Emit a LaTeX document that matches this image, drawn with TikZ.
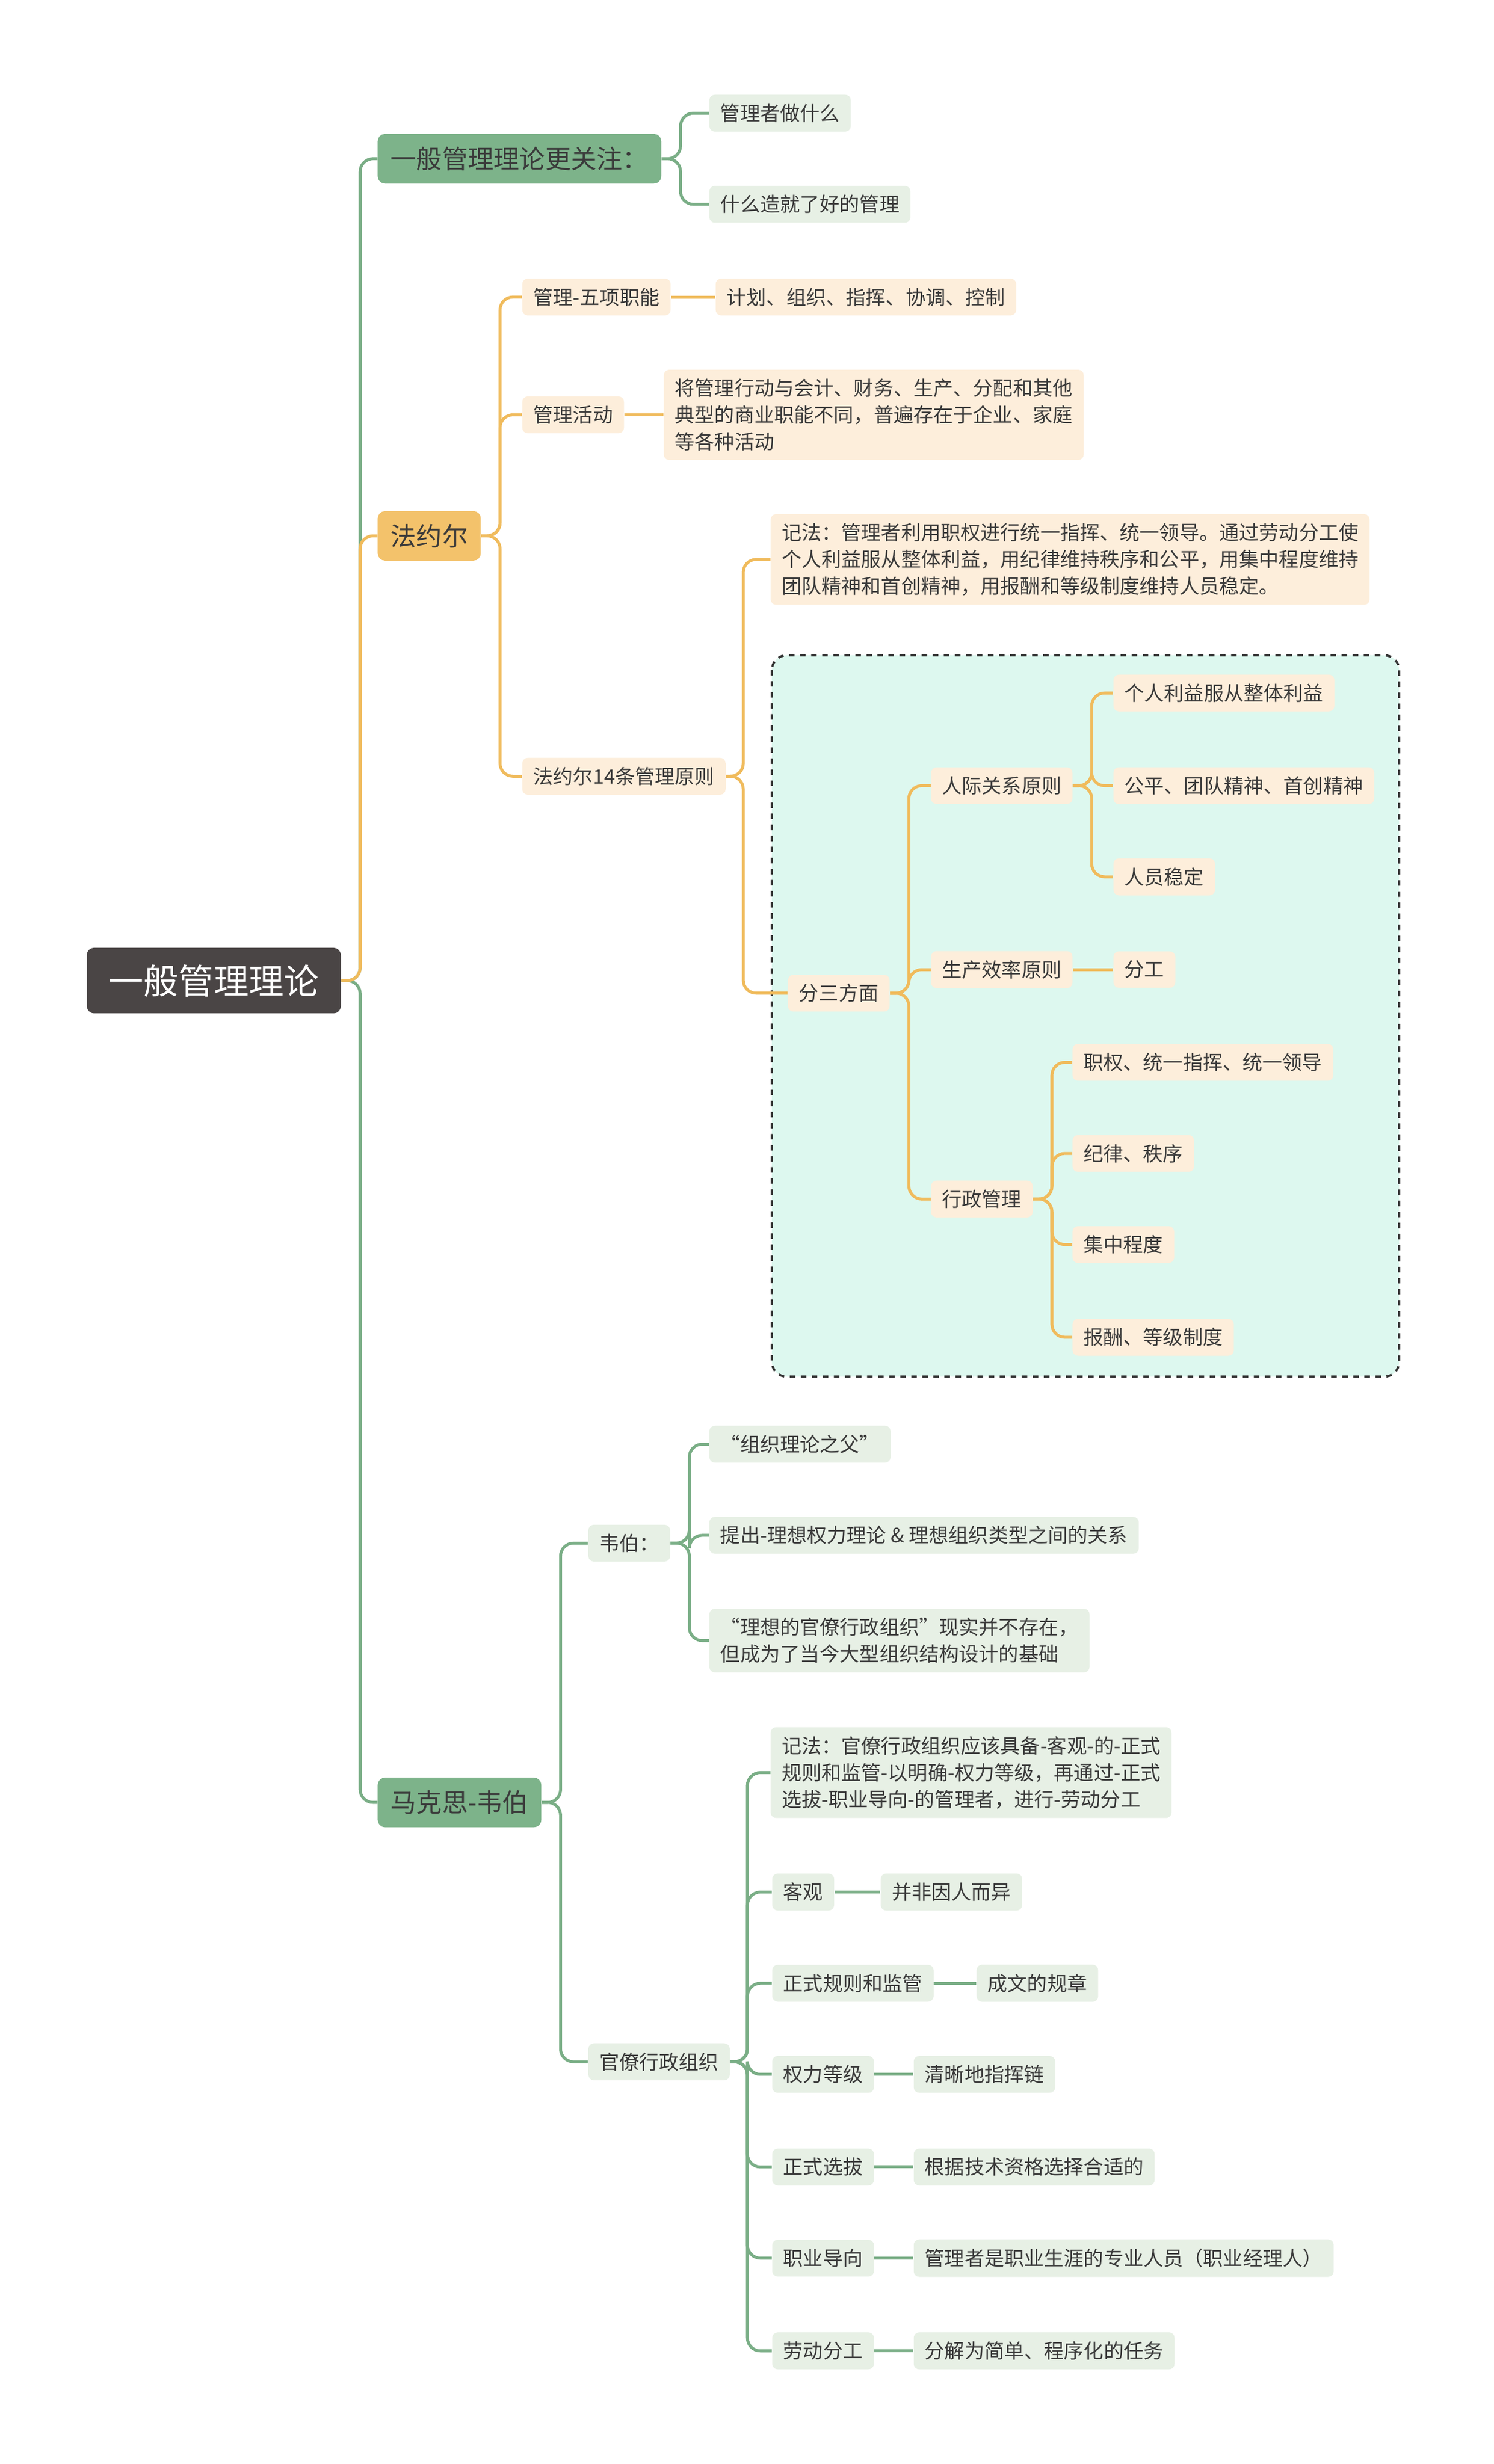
\documentclass[tikz,border=0pt]{standalone}
\usepackage{fontspec}
\setmainfont{Noto Sans CJK SC}
\usetikzlibrary{positioning}
\definecolor{rootfill}{HTML}{4A4545}
\definecolor{gfill}{HTML}{7DB38A}
\definecolor{gleaf}{HTML}{E7F0E5}
\definecolor{gline}{HTML}{7AAE86}
\definecolor{ofill}{HTML}{F3C26B}
\definecolor{oleaf}{HTML}{FDEEDB}
\definecolor{oline}{HTML}{F0BB5C}
\definecolor{zone}{HTML}{DDF8EF}
\definecolor{txt}{HTML}{3A3A3A}
\tikzset{
  root/.style={fill=rootfill,text=white,rounded corners=4pt,inner xsep=12pt,inner ysep=9pt,font=\fontsize{19}{23}\selectfont},
  maing/.style={fill=gfill,text=txt,rounded corners=4pt,inner sep=7pt,anchor=west,font=\fontsize{14}{17}\selectfont},
  maino/.style={maing,fill=ofill},
  leafg/.style={fill=gleaf,text=txt,rounded corners=3pt,inner xsep=6pt,inner ysep=5pt,anchor=west,align=left,font=\fontsize{10.8}{14.5}\selectfont},
  leafo/.style={leafg,fill=oleaf},
  edgeg/.style={draw=gline,line width=1.6pt,rounded corners=7pt},
  edgeo/.style={draw=oline,line width=1.6pt,rounded corners=7pt}
}
\newcommand{\branch}[4]{\draw[#1] (#2.east) -- ++(#4,0) |- (#3.west);}
\newcommand{\single}[3]{\draw[#1] (#2.east) -- (#2.east -| #3.west);}
\begin{document}
\begin{tikzpicture}[x=0.03cm,y=-0.03cm]
\useasboundingbox (0,0) rectangle (950,1568);
\fill[white] (0,0) rectangle (950,1568);
% 分三方面 zone
\draw[dashed,line width=1.2pt,rounded corners=8pt,fill=zone,draw=black!80] (491,417) rectangle (890,876);

\node[root] (root) at (136,624) {一般管理理论};

\node[maing] (focus) at (240,101) {一般管理理论更关注：};
\node[maino] (fayol) at (240,341) {法约尔};
\node[maing] (weber) at (240,1147) {马克思-韦伯};

\node[leafg] (what) at (451,72) {管理者做什么};
\node[leafg] (good) at (451,130) {什么造就了好的管理};

\node[leafo] (five) at (332,189) {管理-五项职能};
\node[leafo] (plan) at (455,189) {计划、组织、指挥、协调、控制};
\node[leafo] (act) at (332,264) {管理活动};
\node[leafo] (actx) at (422,264) {将管理行动与会计、财务、生产、分配和其他\\典型的商业职能不同，普遍存在于企业、家庭\\等各种活动};
\node[leafo] (p14) at (332,494) {法约尔14条管理原则};
\node[leafo] (memo) at (490,356) {记法：管理者利用职权进行统一指挥、统一领导。通过劳动分工使\\个人利益服从整体利益，用纪律维持秩序和公平，用集中程度维持\\团队精神和首创精神，用报酬和等级制度维持人员稳定。};
\node[leafo] (three) at (501,632) {分三方面};
\node[leafo] (human) at (592,500) {人际关系原则};
\node[leafo] (prod) at (592,617) {生产效率原则};
\node[leafo] (admin) at (592,763) {行政管理};
\node[leafo] (h1) at (708,441) {个人利益服从整体利益};
\node[leafo] (h2) at (708,500) {公平、团队精神、首创精神};
\node[leafo] (h3) at (708,558) {人员稳定};
\node[leafo] (div) at (708,617) {分工};
\node[leafo] (a1) at (682,676) {职权、统一指挥、统一领导};
\node[leafo] (a2) at (682,734) {纪律、秩序};
\node[leafo] (a3) at (682,792) {集中程度};
\node[leafo] (a4) at (682,851) {报酬、等级制度};

\node[leafg] (wb) at (374,982) {韦伯：};
\node[leafg] (bur) at (374,1312) {官僚行政组织};
\node[leafg] (father) at (451,919) {“组织理论之父”};
\node[leafg] (idea) at (451,977) {提出-理想权力理论 \& 理想组织类型之间的关系};
\node[leafg] (real) at (451,1044) {“理想的官僚行政组织”现实并不存在，\\但成为了当今大型组织结构设计的基础};
\node[leafg] (bmemo) at (490,1128) {记法：官僚行政组织应该具备-客观-的-正式\\规则和监管-以明确-权力等级，再通过-正式\\选拔-职业导向-的管理者，进行-劳动分工};
\node[leafg] (obj) at (491,1204) {客观};
\node[leafg] (obj2) at (560,1204) {并非因人而异};
\node[leafg] (rule) at (491,1262) {正式规则和监管};
\node[leafg] (rule2) at (621,1262) {成文的规章};
\node[leafg] (rank) at (491,1320) {权力等级};
\node[leafg] (rank2) at (581,1320) {清晰地指挥链};
\node[leafg] (sel) at (491,1379) {正式选拔};
\node[leafg] (sel2) at (581,1379) {根据技术资格选择合适的};
\node[leafg] (car) at (491,1437) {职业导向};
\node[leafg] (car2) at (581,1437) {管理者是职业生涯的专业人员（职业经理人）};
\node[leafg] (lab) at (491,1496) {劳动分工};
\node[leafg] (lab2) at (581,1496) {分解为简单、程序化的任务};

% connectors
\foreach \c in {focus,weber} {\branch{edgeg}{root}{\c}{12}}
\branch{edgeo}{root}{fayol}{12}
\foreach \c in {what,good} {\branch{edgeg}{focus}{\c}{12}}
\foreach \c in {five,act,p14} {\branch{edgeo}{fayol}{\c}{12}}
\single{edgeo}{five}{plan}
\single{edgeo}{act}{actx}
\foreach \c in {memo,three} {\branch{edgeo}{p14}{\c}{11}}
\foreach \c in {human,prod,admin} {\branch{edgeo}{three}{\c}{12}}
\foreach \c in {h1,h2,h3} {\branch{edgeo}{human}{\c}{12}}
\single{edgeo}{prod}{div}
\foreach \c in {a1,a2,a3,a4} {\branch{edgeo}{admin}{\c}{12}}
\foreach \c in {wb,bur} {\branch{edgeg}{weber}{\c}{12}}
\foreach \c in {father,idea,real} {\branch{edgeg}{wb}{\c}{12}}
\foreach \c in {bmemo,obj,rule,rank,sel,car,lab} {\branch{edgeg}{bur}{\c}{11}}
\single{edgeg}{obj}{obj2}
\single{edgeg}{rule}{rule2}
\single{edgeg}{rank}{rank2}
\single{edgeg}{sel}{sel2}
\single{edgeg}{car}{car2}
\single{edgeg}{lab}{lab2}
\end{tikzpicture}
\end{document}
